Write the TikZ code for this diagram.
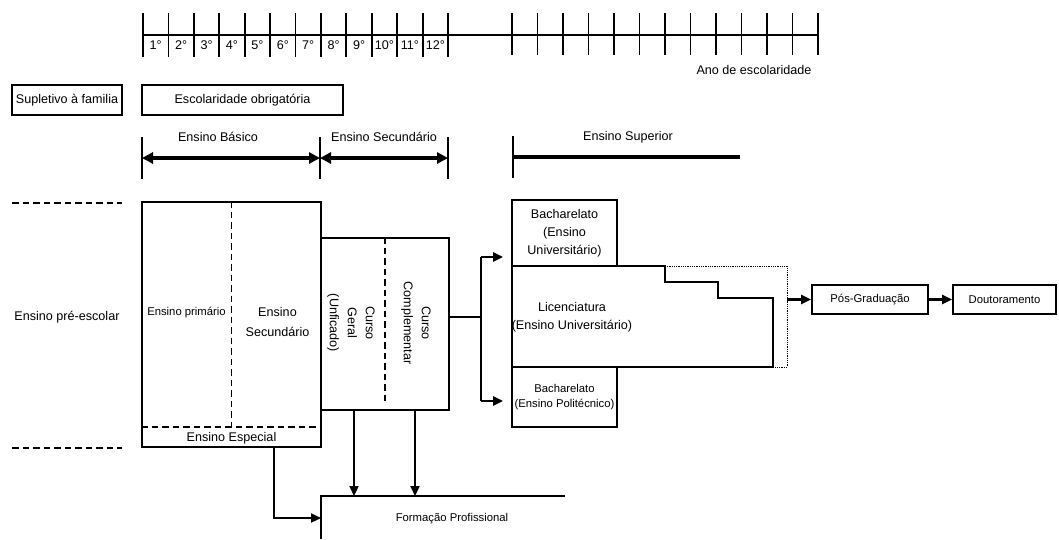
\documentclass[tikz,border=0pt]{standalone}
\usepackage{fontspec}
\setmainfont{Liberation Sans}
\usetikzlibrary{arrows.meta}

\begin{document}
\begin{tikzpicture}[x=1pt, y=-1pt,
	txt/.style={inner sep=0pt, align=center, font=\fontsize{12.6}{18}\selectfont},
	smalltxt/.style={font=\fontsize{11.3}{15}\selectfont},
	box/.style={txt, draw, line width=1.8pt},
	wall/.style={line width=1.8pt},
	dashline/.style={line width=1.8pt, dash pattern=on 6.5pt off 4pt},
	dotline/.style={line width=0.8pt, densely dotted},
	yeartick/.style={line width=1.8pt},
	flow/.style={line width=2.2pt, -{Triangle[length=10pt, width=9pt]}},
	spanarrow/.style={line width=4pt, {Triangle[length=11pt, width=11pt]}-{Triangle[length=11pt, width=11pt]}}]

\useasboundingbox (0,0) rectangle (1059,539);

% Year axis
\draw[yeartick] (143,35) -- (818,35);
\foreach \i in {0,...,12} {
\draw[yeartick] ({143+25.42*\i},13) -- ({143+25.42*\i},57);
\draw[yeartick] ({512+25.5*\i},13) -- ({512+25.5*\i},55);
}
\foreach \i in {1,...,12} {
\node[txt] (ano\i) at ({130.3+25.42*\i},45) {\i°};
}
\node[txt] (anolabel) at (754,70) {Ano de escolaridade};

% Top boxes
\node[box, minimum width=110, minimum height=30] (supletivo) at (67,100) {Supletivo à familia};
\node[box, minimum width=201, minimum height=30] (obrig) at (242.5,100) {Escolaridade obrigatória};

% Spans of the cycles
\coordinate (b0) at (142,158);
\coordinate (b1) at (320,158);
\coordinate (b2) at (448,158);
\coordinate (s0) at (513,157);
\coordinate (s1) at (740,157);
\foreach \c in {b0,b1,b2,s0} {
\draw[yeartick] ([yshift=21pt]\c) -- ([yshift=-21pt]\c);
}
\draw[spanarrow] (b0) -- (b1);
\draw[spanarrow] (b1) -- (b2);
\draw[line width=4.5pt] (s0) -- (s1);

\node[txt] (basicolabel) at (218,137) {Ensino Básico};
\node[txt] (seclabel) at (384,137) {Ensino Secundário};
\node[txt] (suplabel) at (628,137) {Ensino Superior};

% Pre-school
\draw[dashline] (12,203) -- (122,203);
\draw[dashline] (12,448) -- (122,448);
\node[txt] (preescolar) at (67,317) {Ensino pré-escolar};

% Basic and secondary blocks
\node[box, minimum width=179, minimum height=245] (basico) at (231.5,324.5) {};
\draw[dashline] (basico.north) -- (231.5,427);
\draw[dashline] (basico.west |- 0,427) -- (basico.east |- 0,427);
\node[txt, smalltxt] (primario) at (186.5,313) {Ensino primário};
\node[txt, font=\fontsize{12.6}{20}\selectfont] (secbasico) at (277.5,321.5) {Ensino\\Secundário};
\node[txt] (especial) at (231.5,438) {Ensino Especial};

\node[box, minimum width=128, minimum height=172] (curso) at (385,324) {};
\draw[dashline] (curso.north) -- (385,405);
\node[txt, rotate=-90] (geral) at (351,323) {Curso\\Geral\\(Unficado)};
\node[txt, rotate=-90] (complementar) at (416,323) {Curso\\Complementar};

% Higher education
\node[box, minimum width=105, minimum height=66] (bachuni) at (564.5,233) {Bacharelato\\(Ensino\\Universitário)};
\draw[wall] (512,266) -- (665,266) -- (665,282) -- (718,282) -- (718,298)
-- (773,298) -- (773,367) -- (512,367) -- cycle;
\draw[dotline] (665,266) -- (787,266) -- (787,367) -- (773,367);
\node[txt] (licenciatura) at (572,317) {Licenciatura\\(Ensino Universitário)};
\node[box, smalltxt, minimum width=105, minimum height=60] (bachpol) at (564.5,397) {Bacharelato\\(Ensino Politécnico)};

\node[box, smalltxt, minimum width=116, minimum height=29] (pos) at (870,299.5) {Pós-Graduação};
\node[box, smalltxt, minimum width=103, minimum height=29] (doutor) at (1004.5,299.5) {Doutoramento};

% Connectors to higher education
\coordinate (fork) at (481,317);
\coordinate (forkup) at (481,257);
\coordinate (forkdown) at (481,401);
\coordinate (licend) at (787,299.5);
\draw[line width=2.2pt] (curso.east |- fork) -- (fork);
\draw[line width=2.2pt] (forkup) -- (forkdown);
\draw[flow] (forkup) -- ([xshift=-8pt]forkup -| bachuni.west);
\draw[flow] (forkdown) -- ([xshift=-8pt]forkdown -| bachpol.west);
\draw[flow] (licend) -- (pos);
\draw[flow] (pos) -- (doutor);

% Vocational training
\draw[wall] (565,496) -- (321,496) -- (321,539);
\node[txt, smalltxt] (formacao) at (452,519) {Formação Profissional};
\coordinate (fp1) at (354,496);
\coordinate (fp2) at (415,496);
\coordinate (fp3) at (321,518);
\draw[flow] (curso.south -| fp1) -- (fp1);
\draw[flow] (curso.south -| fp2) -- (fp2);
\draw[flow] (basico.south -| 274,0) |- (fp3);

\end{tikzpicture}
\end{document}
